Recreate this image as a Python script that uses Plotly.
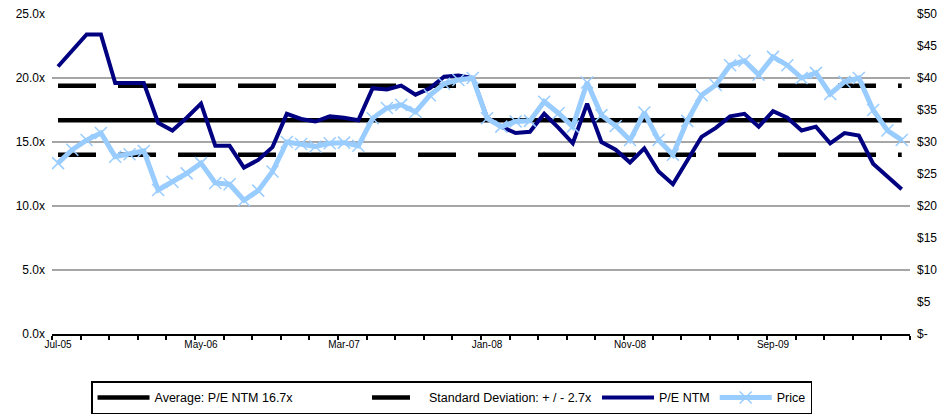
import pandas as pd
import plotly.graph_objects as go

# Monthly observations, Jul-05 through Jun-10
months = list(pd.date_range("2005-07-01", periods=60, freq="MS").strftime("%b-%y"))

pe_ntm = [
    20.9, 22.2, 23.4, 23.4, 19.6, 19.6, 19.6, 16.5, 15.9, 16.9,
    18.0, 14.7, 14.7, 13.0, 13.6, 14.6, 17.2, 16.8, 16.6, 17.0,
    16.9, 16.7, 19.2, 19.1, 19.4, 18.7, 19.2, 20.1, 20.2, 20.0,
    16.9, 16.2, 15.7, 15.8, 17.2, 16.1, 14.9, 18.0, 15.0, 14.4,
    13.4, 14.5, 12.7, 11.7, 13.6, 15.4, 16.1, 17.0, 17.2, 16.2,
    17.4, 16.9, 15.9, 16.2, 14.9, 15.7, 15.5, 13.3, 12.3, 11.3,
]

price = [
    26.7, 28.8, 30.3, 31.4, 27.7, 28.1, 28.6, 22.5, 23.8, 25.1,
    26.7, 23.6, 23.4, 20.9, 22.4, 25.4, 30.0, 29.7, 29.3, 29.8,
    29.9, 29.4, 33.7, 35.3, 35.8, 34.7, 37.3, 39.1, 39.7, 40.0,
    33.7, 32.4, 33.2, 33.3, 36.3, 34.5, 32.4, 39.3, 34.2, 32.5,
    30.3, 34.6, 30.3, 28.0, 33.3, 37.3, 38.9, 42.0, 42.7, 40.5,
    43.3, 42.0, 40.0, 40.8, 37.5, 39.4, 40.0, 35.0, 31.8, 30.3,
]

pe_average = 16.7
pe_std = 2.7

left_ticks = [0, 5, 10, 15, 20, 25]
left_labels = ["0.0x", "5.0x", "10.0x", "15.0x", "20.0x", "25.0x"]
right_ticks = [0, 5, 10, 15, 20, 25, 30, 35, 40, 45, 50]
right_labels = ["$-", "$5", "$10", "$15", "$20", "$25", "$30", "$35", "$40", "$45", "$50"]

x = list(range(len(months)))
x_lo, x_hi = -0.42, len(months) - 0.42
tick_marks = [x_lo + 2 * k for k in range(31)]
label_idx = list(range(0, len(months), 10))

FONT = "Liberation Sans Narrow, Arial Narrow, Liberation Sans, Arial, sans-serif"
NAVY = "#000080"
LIGHT = "#99CCFF"
PAD = "\u00a0" * 20  # extra room after the first legend entry

fig = go.Figure()

fig.add_trace(go.Scatter(
    x=x, y=[pe_average] * len(x), mode="lines",
    line=dict(color="black", width=4.5),
    name=f"Average: P/E NTM {pe_average}x" + PAD, legendrank=1,
))
fig.add_trace(go.Scatter(
    x=x, y=[pe_average + pe_std] * len(x), mode="lines",
    line=dict(color="black", width=4.5, dash="38px,22px"),
    name=f"Standard Deviation: + / - {pe_std}x", legendgroup="std", legendrank=2,
))
fig.add_trace(go.Scatter(
    x=x, y=[pe_average - pe_std] * len(x), mode="lines",
    line=dict(color="black", width=4.5, dash="38px,22px"),
    name=f"Standard Deviation: + / - {pe_std}x", legendgroup="std", showlegend=False,
))
fig.add_trace(go.Scatter(
    x=x, y=pe_ntm, mode="lines",
    line=dict(color=NAVY, width=4),
    name="P/E NTM", legendrank=3,
))
fig.add_trace(go.Scatter(
    x=x, y=price, mode="lines+markers", yaxis="y2",
    line=dict(color=LIGHT, width=5),
    marker=dict(symbol="x-thin-open", size=12, color=LIGHT,
                line=dict(color=LIGHT, width=1.5)),
    name="Price", legendrank=4,
))

fig.update_layout(
    width=945, height=417,
    margin=dict(l=52, r=35, t=14, b=83, autoexpand=False),
    paper_bgcolor="white", plot_bgcolor="white",
    font=dict(family=FONT, size=12, color="black"),
    showlegend=True,
    legend=dict(
        orientation="h", x=0.0455, xanchor="left", y=-0.148, yanchor="top",
        bordercolor="black", borderwidth=1.5, bgcolor="white",
        font=dict(family=FONT, size=12.5), itemwidth=52,
        traceorder="normal", tracegroupgap=0,
    ),
    xaxis=dict(
        range=[x_lo, x_hi], tickmode="array", tickvals=label_idx,
        ticktext=[months[i] for i in label_idx], ticks="",
        tickfont=dict(size=10), showgrid=False, zeroline=False,
        showline=True, linecolor="black", linewidth=2,
        minor=dict(tickmode="array", tickvals=tick_marks, ticks="outside",
                   ticklen=4, tickwidth=1.5, tickcolor="black", showgrid=False),
    ),
    xaxis2=dict(
        overlaying="x", anchor="y", side="bottom", range=[x_lo, x_hi],
        tickmode="array", tickvals=tick_marks, ticks="inside", ticklen=4,
        tickwidth=1.5, tickcolor="black", showticklabels=False,
        showgrid=False, zeroline=False, showline=False,
    ),
    yaxis=dict(
        range=[0, 25], tickmode="array", tickvals=left_ticks, ticktext=left_labels,
        showgrid=True, gridcolor="#A6A6A6", gridwidth=2, zeroline=False,
        ticks="", ticklabelstandoff=6, tickfont=dict(size=12),
    ),
    yaxis2=dict(
        range=[0, 50], overlaying="y", side="right", tickmode="array",
        tickvals=right_ticks, ticktext=right_labels, showgrid=False,
        zeroline=False, ticks="", ticklabelstandoff=6, tickfont=dict(size=12),
    ),
)

fig.write_html("out.html")
